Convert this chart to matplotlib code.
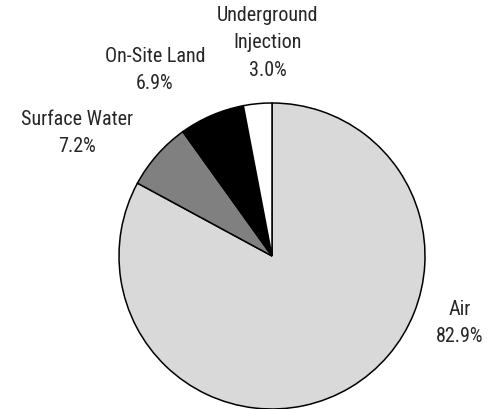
import matplotlib
matplotlib.use("Agg")
import matplotlib.pyplot as plt

# Release share by medium
categories = ["Air", "Surface Water", "On-Site Land", "Underground\nInjection"]
shares = [82.9, 7.2, 6.9, 3.0]
colors = ["#d9d9d9", "#808080", "#000000", "#ffffff"]

# label anchor points (pixel space, origin bottom-left)
label_x = [460, 77, 155, 268]
label_y = [87, 277, 340, 367]

W, H = 491, 410
fig = plt.figure(figsize=(W / 100, H / 100), dpi=100)
ax = fig.add_axes([0, 0, 1, 1])

ax.pie(
    shares,
    colors=colors,
    startangle=90,
    counterclock=False,
    center=(272, 153),
    radius=153,
    wedgeprops=dict(edgecolor="black", linewidth=1.1),
    frame=True,
)
ax.set_xlim(0, W)
ax.set_ylim(0, H)
ax.set_aspect("equal")
ax.axis("off")

for name, val, x, y in zip(categories, shares, label_x, label_y):
    ax.text(x, y, f"{name}\n{val:.1f}%", ha="center", va="center",
            fontsize=14.5, family=["Roboto Condensed", "DejaVu Sans"],
            color="#262626", linespacing=1.58)

fig.savefig("out.png", dpi=100)
